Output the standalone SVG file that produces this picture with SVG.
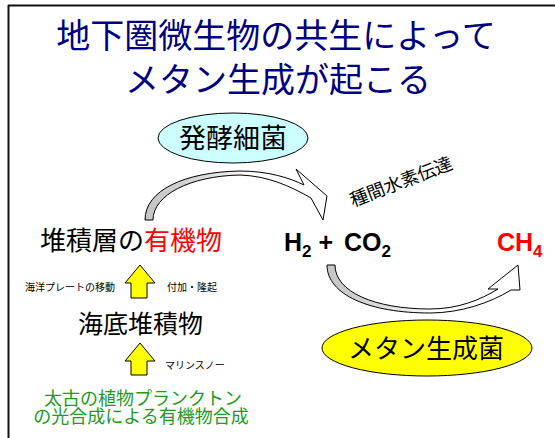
<svg xmlns="http://www.w3.org/2000/svg" width="555" height="438" viewBox="0 0 555 438">
<style>
.jp{font-family:"Noto Sans CJK JP","Noto Sans",sans-serif;}
.title{font-size:34px;fill:#000080;text-anchor:middle;}
.big{font-size:26px;fill:#000;}
.small{font-size:10px;fill:#000;}
.green{font-size:18px;fill:#229922;text-anchor:middle;}
.chem{font-family:"Liberation Sans",Arial,sans-serif;font-weight:bold;font-size:25px;fill:#000;}
.sub{font-size:17px;}
.red{fill:#ff0000;}
.ell{stroke:#000;stroke-width:1;}
.up{fill:#ffff00;stroke:#000;stroke-width:1;}
.curve{stroke:#000;stroke-width:1;stroke-linejoin:miter;}
</style>
<defs>
<linearGradient id="g1" gradientUnits="userSpaceOnUse" x1="145" y1="0" x2="330" y2="0">
<stop offset="0" stop-color="#c4c4c4"/><stop offset="0.3" stop-color="#d8d8d8"/><stop offset="0.6" stop-color="#ffffff"/><stop offset="1" stop-color="#ffffff"/>
</linearGradient>
<linearGradient id="g2" gradientUnits="userSpaceOnUse" x1="327" y1="0" x2="520" y2="0">
<stop offset="0" stop-color="#c4c4c4"/><stop offset="0.25" stop-color="#d8d8d8"/><stop offset="0.55" stop-color="#ffffff"/><stop offset="1" stop-color="#ffffff"/>
</linearGradient>
</defs>
<rect width="555" height="438" fill="#fff"/>
<g id="frame">
<line x1="8" y1="5.5" x2="555" y2="5.5" stroke="#111" stroke-width="2"/>
<line x1="8.5" y1="5" x2="8.5" y2="438" stroke="#111" stroke-width="2"/>
</g>
<g id="title" class="jp">
<text class="jp title" x="276" y="48">地下圏微生物の共生によって</text>
<text class="jp title" x="278" y="92">メタン生成が起こる</text>
</g>
<g id="connectors">
<path class="curve" fill="url(#g1)" d="M145,220 C145,190 185,172 240,171 C268,171 290,178 304,185 L296,169 L327,196 L323,220 L311,198 C290,186 268,176 240,175 C190,176 153,195 153,220 Z"/>
<path class="curve" fill="url(#g2)" d="M327,265 C327,295 370,313 430,313 C460,313 490,303 511,290 L520,290 L518,265 L488,289 L498,289 C480,300 458,309 430,309 C375,309 335,292 335,265 Z"/>
<polygon class="up" points="140,265 155,283 147,283 147,298 131,298 131,283 125,283"/>
<polygon class="up" points="140,343 155,361 147,361 147,375 131,375 131,361 125,361"/>
<text class="jp small" x="25" y="291">海洋プレートの移動</text>
<text class="jp small" x="167" y="291">付加・隆起</text>
<text class="jp small" x="165" y="369">マリンスノー</text>
<text class="jp" font-size="18" transform="translate(353,207) rotate(-21)">種間水素伝達</text>
</g>
<g id="node-hakko">
<ellipse class="ell" cx="233" cy="138" rx="75" ry="25" fill="#ccffff"/>
<text class="jp" font-size="27" x="233" y="148" text-anchor="middle">発酵細菌</text>
</g>
<g id="node-methanogen">
<ellipse class="ell" cx="427" cy="348" rx="105" ry="28" fill="#ffff00"/>
<text class="jp big" x="426" y="358" text-anchor="middle">メタン生成菌</text>
</g>
<g id="node-sediment-organic">
<text class="jp big" x="40" y="250">堆積層の<tspan class="red">有機物</tspan></text>
</g>
<g id="node-h2co2">
<text class="chem" x="284" y="251">H<tspan class="sub" dy="6">2</tspan><tspan dy="-6"> + </tspan><tspan dx="4">CO</tspan><tspan class="sub" dy="6">2</tspan></text>
</g>
<g id="node-ch4">
<text class="chem red" x="497" y="251">CH<tspan class="sub" dy="6">4</tspan></text>
</g>
<g id="node-seafloor">
<text class="jp" font-size="25" x="78" y="333">海底堆積物</text>
</g>
<g id="node-plankton">
<text class="jp green" x="143" y="405">太古の植物プランクトン</text>
<text class="jp green" x="141" y="423">の光合成による有機物合成</text>
</g>
</svg>
